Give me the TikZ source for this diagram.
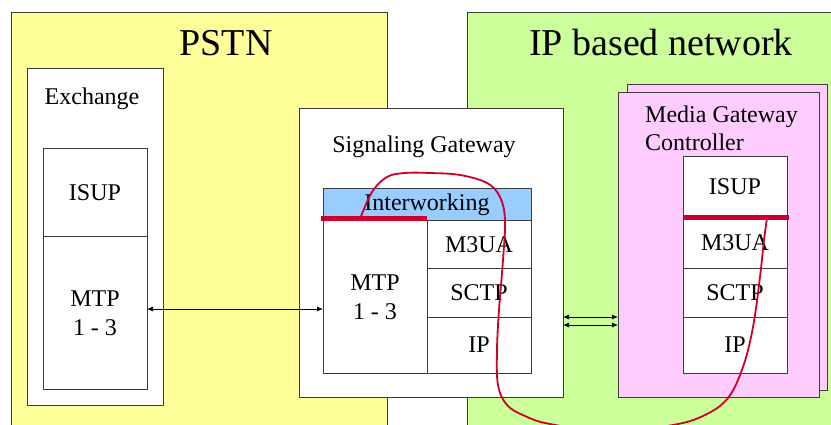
\documentclass[tikz,border=0pt]{standalone}
\usepackage{fontspec}
\setmainfont{Liberation Serif}
\usetikzlibrary{positioning,arrows.meta}

\definecolor{pstnyellow}{RGB}{255,255,153}
\definecolor{ipgreen}{RGB}{204,255,153}
\definecolor{mgcpink}{RGB}{255,204,255}
\definecolor{iwblue}{RGB}{153,204,255}
\definecolor{sigred}{RGB}{204,0,45}
\definecolor{edge}{RGB}{60,60,60}

\tikzset{
	box/.style={draw=edge, line width=1pt, rectangle, inner sep=0pt, outer sep=0pt, anchor=north west},
	layer/.style={draw=edge, line width=1pt, fill=white, rectangle, inner sep=0pt, outer sep=0pt,
		minimum width=104pt, font=\fontsize{24}{29}\selectfont, align=center},
	title/.style={font=\fontsize{38}{40}\selectfont, anchor=base},
	label/.style={font=\fontsize{24}{28}\selectfont, inner sep=0pt},
	link/.style={line width=0.8pt, {Latex[length=6pt,width=5pt]}-{Latex[length=6pt,width=5pt]}},
	bar/.style={draw=sigred, line width=5pt},
	flow/.style={draw=sigred, line width=1.8pt}
}

\begin{document}
\begin{tikzpicture}[x=1pt,y=-1pt]

	\useasboundingbox (0,0) rectangle (831,425);
	\clip (0,0) rectangle (831,425);

	% networks
	\node (pstn) [box, fill=pstnyellow, minimum width=376pt, minimum height=440pt] at (11,13) {};
	\node (ipnet) [box, fill=ipgreen, minimum width=400pt, minimum height=440pt] at (467,13) {};
	\node (pstntitle) [title] at (226,56) {PSTN};
	\node (iptitle) [title] at (661,56) {IP based network};

	% exchange
	\node (exch) [box, fill=white, minimum width=136pt, minimum height=336pt] at (27,69) {};
	\node (exlabel) [label, anchor=base] at (92,105) {Exchange};
	\node (exisup) [layer, minimum height=88pt, anchor=north west] at (43,149) {ISUP};
	\node (exmtp) [layer, minimum height=152pt, below=0pt of exisup] {MTP\\1 - 3};

	% signaling gateway
	\node (sg) [box, fill=white, minimum width=264pt, minimum height=288pt] at (299,109) {};
	\node (sglabel) [label, anchor=base] at (424,153) {Signaling Gateway};
	\node (sgiw) [layer, fill=iwblue, minimum width=208pt, minimum height=32pt, anchor=north west] at (323,189) {Interworking};
	\node (sgmtp) [layer, minimum height=152pt, anchor=north west] at (323,221) {MTP\\1 - 3};
	\node (sgm3ua) [layer, minimum height=48pt, anchor=north west] at (427,221) {M3UA};
	\node (sgsctp) [layer, minimum height=48pt, below=0pt of sgm3ua] {SCTP};
	\node (sgip) [layer, minimum height=56pt, below=0pt of sgsctp] {IP};

	% media gateway controller
	\node (mgcback) [box, fill=mgcpink, minimum width=200pt, minimum height=305pt] at (627,85) {};
	\node (mgc) [box, fill=mgcpink, minimum width=201pt, minimum height=304pt] at (618,93) {};
	\node (mgclabel) [label, anchor=north west, align=left] at (645,106) {Media Gateway\\Controller};
	\node (mgcisup) [layer, minimum height=60pt, anchor=north west] at (683,157) {ISUP};
	\node (mgcm3ua) [layer, minimum height=52pt, below=0pt of mgcisup] {M3UA};
	\node (mgcsctp) [layer, minimum height=48pt, below=0pt of mgcm3ua] {SCTP};
	\node (mgcip) [layer, minimum height=56pt, below=0pt of mgcsctp] {IP};

	% links
	\draw[link] ([yshift=4pt]exmtp.east) -- ([yshift=4pt]exmtp.east -| sgmtp.west);
	\draw[link] ([yshift=-64pt]sg.east) -- ([yshift=-64pt]sg.east -| mgc.west);
	\draw[link] ([yshift=-72pt]sg.east) -- ([yshift=-72pt]sg.east -| mgc.west);

	% signalling path
	\draw[bar] ([xshift=-2pt,yshift=2pt]sgmtp.north west) -- ([yshift=2pt]sgmtp.north east);
	\draw[bar] ([yshift=-1pt]mgcisup.south west) -- ([xshift=2pt,yshift=-1pt]mgcisup.south east);
	\coordinate (sgtap) at (360,219);
	\coordinate (mgctap) at (767,218);
	\draw[flow] plot[smooth, tension=0.6] coordinates {(sgtap) (372,192) (387,177) (405,173)
		(430,173) (460,175) (487,183) (500,197) (505,220) (503,260) (499,310) (497,350)
		(498,385) (507,405) (525,416) (550,424) (610,432) (673,425) (705,415) (728,398)
		(743,367) (753,327) (760,277) (764,240) (mgctap)};

\end{tikzpicture}
\end{document}
